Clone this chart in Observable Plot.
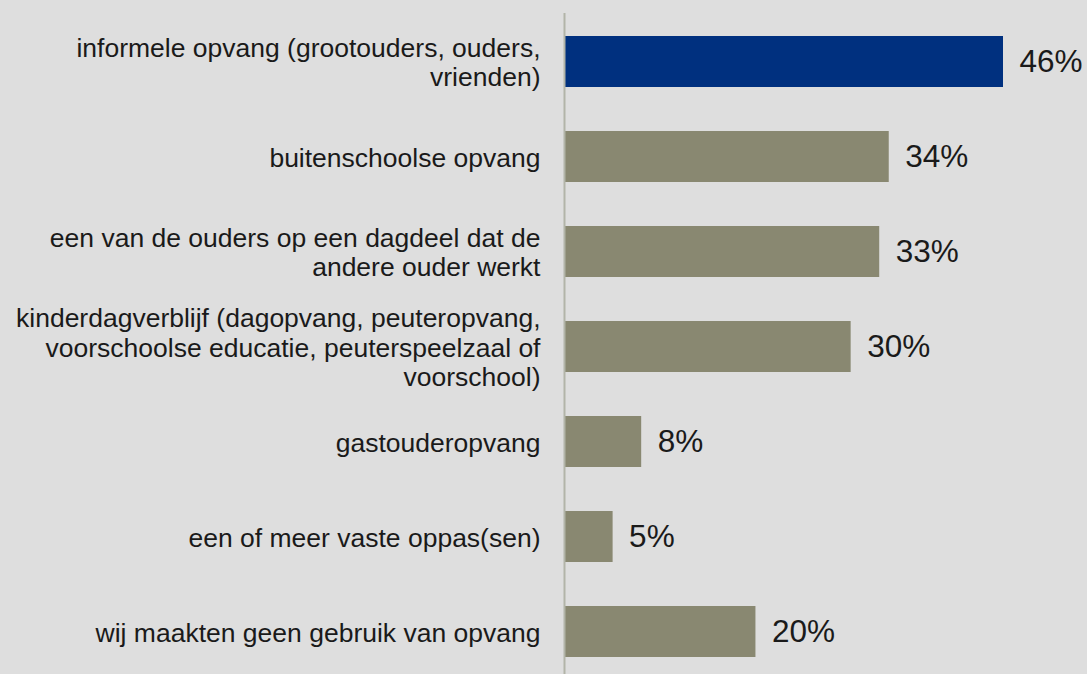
<!DOCTYPE html>
<html>
<head>
<meta charset="utf-8">
<script src="https://cdn.jsdelivr.net/npm/d3@7"></script>
<script src="https://cdn.jsdelivr.net/npm/@observablehq/plot@0.6"></script>
<style>
  html, body { margin: 0; padding: 0; background: #dedede; }
  #chart svg { display: block; }
</style>
</head>
<body>
<div id="chart"></div>
<script>
const categories = [
  "informele opvang (grootouders, ouders,\nvrienden)",
  "buitenschoolse opvang",
  "een van de ouders op een dagdeel dat de\nandere ouder werkt",
  "kinderdagverblijf (dagopvang, peuteropvang,\nvoorschoolse educatie, peuterspeelzaal of\nvoorschool)",
  "gastouderopvang",
  "een of meer vaste oppas(sen)",
  "wij maakten geen gebruik van opvang"
];
const values = [46, 34, 33, 30, 8, 5, 20];
const highlight = [true, false, false, false, false, false, false];

const data = categories.map((c, i) => ({category: c, value: values[i], hi: highlight[i]}));

const chart = Plot.plot({
  width: 1087,
  height: 674,
  marginTop: 13,
  marginBottom: 0,
  marginLeft: 565,
  marginRight: 0,
  style: {background: "#dedede", fontFamily: "'Liberation Sans', Arial, sans-serif"},
  x: {domain: [0, 46], range: [565, 1003], axis: null},
  y: {domain: categories, range: [12.4, 679.6], paddingInner: 0.465, paddingOuter: 0.2325, axis: null},
  marks: [
    Plot.barX(data, {x: "value", y: "category", fill: d => d.hi ? "#00307f" : "#898871"}),
    Plot.ruleX([0], {stroke: "#b2b4a8", strokeWidth: 2, dx: -1}),
    Plot.text(data, {
      y: "category", x: 0, text: "category", textAnchor: "end", dx: -25,
      fontSize: 26.5, lineHeight: 1.12, fill: "#1a1a1a"
    }),
    Plot.text(data, {
      y: "category", x: "value", text: d => d.value + "%", textAnchor: "start", dx: 16,
      fontSize: 31.5, fill: "#1a1a1a"
    })
  ]
});
document.getElementById("chart").appendChild(chart);
</script>
</body>
</html>
